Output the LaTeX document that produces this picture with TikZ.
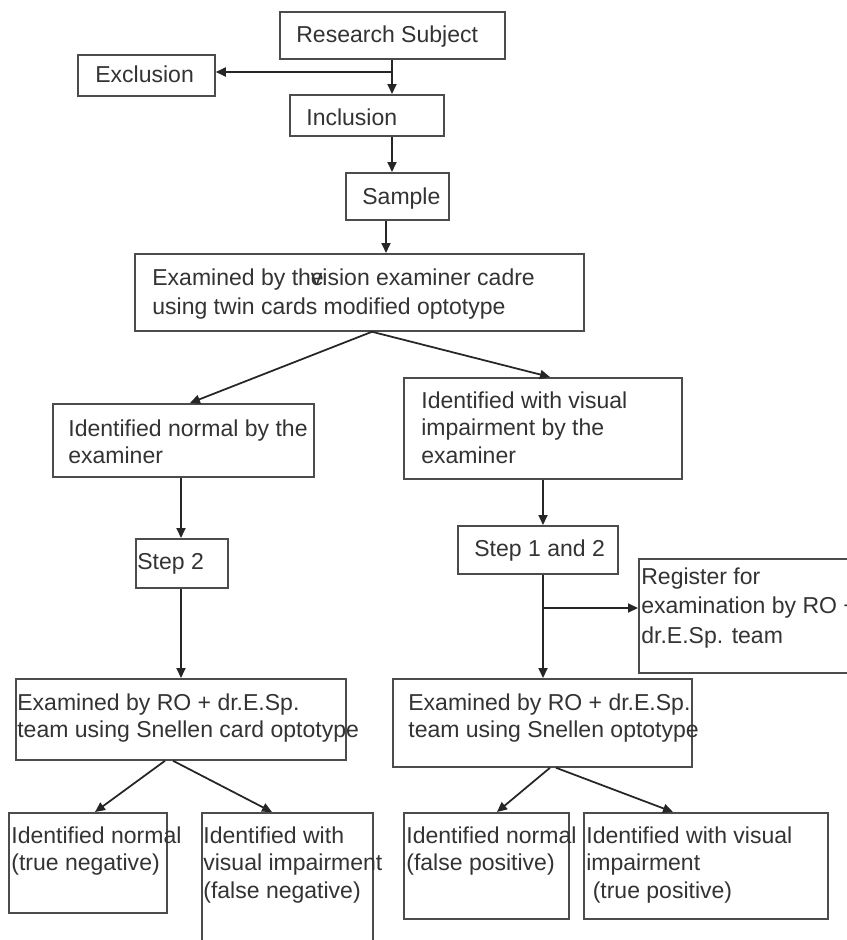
\documentclass[tikz,border=0pt]{standalone}
\usepackage{fontspec}
\setmainfont{Liberation Sans}
\usetikzlibrary{arrows.meta, calc}

\newcommand{\px}{0.02cm}

\begin{document}
\begin{tikzpicture}[
    x=0.02cm, y=-0.02cm,
    font=\fontsize{13.1}{15.7}\selectfont,
    kotak/.style={draw=black!70, line width=1pt, anchor=north west,
                  inner sep=0pt, fill=white},
    teks/.style={anchor=north west, inner sep=0pt, align=left, text=black!80},
    panah/.style={-{Triangle[length=0.2cm, width=0.18cm]}, line width=1pt,
                  black!85}
  ]
    \useasboundingbox (0,0) rectangle (847,940);
    \clip (0,0) rectangle (847,940);
    % kotak
    \node[kotak, minimum width=225*\px, minimum height=47*\px] (subjek) at (279,11) {};
    \node[kotak, minimum width=137*\px, minimum height=41*\px] (eksklusi) at (77,54) {};
    \node[kotak, minimum width=154*\px, minimum height=41*\px] (inklusi) at (289,94) {};
    \node[kotak, minimum width=103*\px, minimum height=47*\px] (sampel) at (345,172) {};
    \node[kotak, minimum width=449*\px, minimum height=77*\px] (periksa) at (134,253) {};
    \node[kotak, minimum width=261*\px, minimum height=73*\px] (normal) at (52,403) {};
    \node[kotak, minimum width=278*\px, minimum height=101*\px] (gangguan) at (403,377) {};
    \node[kotak, minimum width=92*\px, minimum height=49*\px] (langkahB) at (135,538) {};
    \node[kotak, minimum width=160*\px, minimum height=48*\px] (langkahAB) at (457,525) {};
    \node[kotak, minimum width=262*\px, minimum height=114*\px] (daftar) at (638,558) {};
    \node[kotak, minimum width=330*\px, minimum height=81*\px] (roKiri) at (15,678) {};
    \node[kotak, minimum width=299*\px, minimum height=88*\px] (roKanan) at (392,678) {};
    \node[kotak, minimum width=158*\px, minimum height=100*\px] (negBenar) at (8,812) {};
    \node[kotak, minimum width=171*\px, minimum height=140*\px] (negSalah) at (201,812) {};
    \node[kotak, minimum width=165*\px, minimum height=106*\px] (posSalah) at (403,812) {};
    \node[kotak, minimum width=244*\px, minimum height=106*\px] (posBenar) at (583,812) {};
    % teks
    \node[teks] (subjek-t) at (296,25) {Research Subject};
    \node[teks] (eksklusi-t) at (95,65) {Exclusion};
    \node[teks] (inklusi-t) at (306,108) {Inclusion};
    \node[teks] (sampel-t) at (362,187) {Sample};
    \node[teks, font=\fontsize{13.1}{16.8}\selectfont] (periksa-t) at (152,268)
      {Examined by th\rlap{e}vision examiner cadre\\using twin cards modified optotype};
    \node[teks] (normal-t) at (68,419) {Identified normal by the\\examiner};
    \node[teks] (gangguan-t) at (421,391)
      {Identified with visual\\impairment by the\\examiner};
    \node[teks] (langkahB-t) at (137,553) {Step 2};
    \node[teks] (langkahAB-t) at (474,539) {Step 1 and 2};
    \node[teks, font=\fontsize{13.1}{16.8}\selectfont] (daftar-t) at (641,567)
      {Register for\\examination by RO +\\dr.E.Sp. team};
    \node[teks] (roKiri-t) at (17,693)
      {Examined by RO + dr.E.Sp.\\team using Snellen card optotype};
    \node[teks] (roKanan-t) at (408,693)
      {Examined by RO + dr.E.Sp.\\team using Snellen optotype};
    \node[teks] (negBenar-t) at (11,826) {Identified normal\\(true negative)};
    \node[teks] (negSalah-t) at (203,826)
      {Identified with\\visual impairment\\(false negative)};
    \node[teks] (posSalah-t) at (406,826) {Identified normal\\(false positive)};
    \node[teks] (posBenar-t) at (586,826)
      {Identified with visual\\impairment\\\hspace*{0.278em}(true positive)};
    % panah
    \coordinate (cabangA) at (392,72);
    \coordinate (cabangB) at (543,608);
    \draw[panah] (subjek.south -| cabangA) -- (inklusi.north -| cabangA);
    \draw[panah] (cabangA) -- (eksklusi.east |- cabangA);
    \draw[panah] (inklusi.south -| cabangA) -- (sampel.north -| cabangA);
    \draw[panah] (sampel.south -| 386,0) -- (periksa.north -| 386,0);
    \draw[panah] (periksa.south -| 372,0) -- (normal.north -| 190,0);
    \draw[panah] (periksa.south -| 372,0) -- (gangguan.north -| 550,0);
    \draw[panah] (normal.south -| 181,0) -- (langkahB.north -| 181,0);
    \draw[panah] (gangguan.south -| cabangB) -- (langkahAB.north -| cabangB);
    \draw[panah] (langkahB.south -| 181,0) -- (roKiri.north -| 181,0);
    \draw[panah] (langkahAB.south -| cabangB) -- (roKanan.north -| cabangB);
    \draw[panah] (cabangB) -- (daftar.west |- cabangB);
    \draw[panah] (roKiri.south -| 165,0) -- (negBenar.north -| 95,0);
    \draw[panah] (roKiri.south -| 173,0) -- (negSalah.north -| 272,0);
    \draw[panah] (roKanan.south -| 550,0) -- (posSalah.north -| 497,0);
    \draw[panah] (roKanan.south -| 556,0) -- (posBenar.north -| 673,0);
  \end{tikzpicture}
\end{document}
